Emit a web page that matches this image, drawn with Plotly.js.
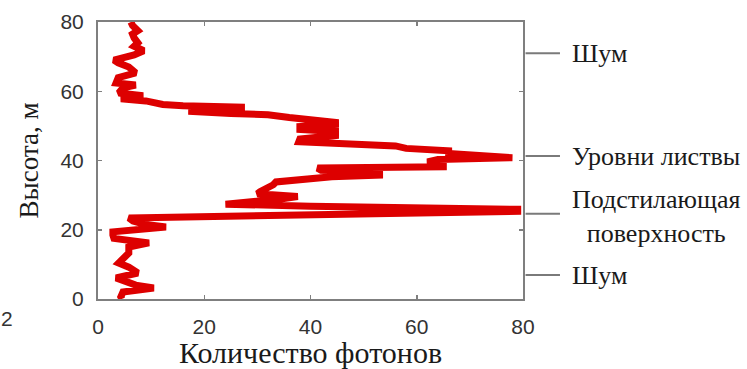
<!DOCTYPE html>
<html>
<head>
<meta charset="utf-8">
<script src="https://cdn.plot.ly/plotly-3.0.1.min.js"></script>
<style>
  html, body { margin: 0; padding: 0; background: #ffffff; }
  #chart { width: 747px; height: 369px; }
</style>
</head>
<body>
<div id="chart"></div>
<script>
// Height (m) of each sample, top to bottom
const heights = [
  80, 79, 77.5, 76.5, 75.4, 74, 73, 71.7, 70.5, 69.5, 69, 68.2, 67, 65.3, 64.5, 63.9,
  62.4, 61.8, 61, 59.5, 58.7, 57.8, 57.2, 56.5, 56.2, 55.8, 55.4, 54.6, 54.2, 53.6,
  53.2, 52.4, 51.8, 51.0, 50.4, 49.8, 49.0, 48.4, 47.2, 46.2, 45.4, 45.0, 44.2, 43.5,
  42.8, 42.0, 41.6, 41.3, 40.8, 40.3, 39.6, 38.8, 38.2, 37.8, 37.2, 36.7, 35.8, 35.3,
  34.6, 33.8, 33, 32, 31, 30.4, 29.6, 29.0, 28.4, 27.8, 27.4, 26.8, 26.3, 25.9, 25.3,
  24.9, 24.5, 24.1, 23.7, 23.4, 22.5, 21.5, 20.8, 20, 19.4, 18.5, 17.5, 16.2, 15,
  13.3, 11.8, 10.4, 9.2, 7.5, 6.1, 5, 4, 3.2, 2, 0.6, 0
];
// Photon count at each height
const photons = [
  6.2, 6.5, 7.5, 6.5, 6.8, 7.5, 6.8, 8.6, 6.8, 4, 3.0, 3.8, 5.8, 7.1, 5, 3.8,
  3.4, 7.1, 4.7, 3.9, 8.5, 4.3, 9, 11, 12.2, 16, 27, 27, 17, 25,
  32, 36, 41, 44.7, 44.7, 38, 38, 44.7, 44.7, 38, 37.8, 45, 56, 58,
  66, 66, 72, 78, 78, 64, 62, 65, 65, 41.3, 42, 53, 53, 44,
  38, 33.5, 33, 31.5, 30.5, 30, 37.6, 35, 31, 24, 24, 40, 60, 79, 79,
  62, 38, 20, 10, 5.8, 6.6, 9, 12.8, 7, 2.8, 2.8, 3, 9.6, 5.8,
  5.8, 4.9, 3.9, 5.8, 7.5, 3.4, 5, 7.1, 10.5, 4.7, 4.3, 4.5
];
const xTicks = [0, 20, 40, 60, 80];
const yTicks = [0, 20, 40, 60, 80];
const xTitle = "Количество фотонов";
const yTitle = "Высота, м";
// Right-side labels and the heights they point to
const sideLabels = ["Шум", "Уровни листвы", "Подстилающая<br>поверхность", "Шум"];
const sideHeights = [71, 41.3, 24.6, 6.9];

const serif = "Liberation Serif, Times New Roman, serif";
const sans = "Liberation Sans, Arial, sans-serif";

const shapes = sideHeights.map(h => ({
  type: "line", xref: "paper", yref: "y",
  x0: 1.006, x1: 1.087, y0: h, y1: h,
  line: { color: "#7a7a7a", width: 2 }
}));

const annotations = sideLabels.map((t, i) => ({
  text: t, xref: "paper", yref: "y",
  x: i === 2 ? 1.315 : 1.11, y: sideHeights[i] + (i === 2 ? -0.8 : 0),
  xanchor: i === 2 ? "center" : "left", yanchor: "middle", align: "center",
  showarrow: false,
  font: { family: serif, size: 26, color: "#1a1a1a" }
}));
annotations.push({
  text: "2", xref: "paper", yref: "paper", x: -0.214, y: -0.072,
  xanchor: "center", yanchor: "middle", showarrow: false,
  font: { family: sans, size: 21, color: "#333" }
});

const trace = {
  x: photons, y: heights, type: "scatter", mode: "lines",
  line: { color: "#dd0000", width: 7, shape: "linear" },
  hoverinfo: "skip"
};

const axisCommon = {
  showgrid: false, zeroline: false, showline: true, mirror: "ticks",
  linecolor: "#7f7f7f", linewidth: 2,
  ticks: "inside", ticklen: 4, tickwidth: 1.5, tickcolor: "#7f7f7f",
  tickfont: { family: sans, size: 21, color: "#333" },
  tickmode: "array", ticklabelstandoff: 8
};

const layout = {
  width: 747, height: 369,
  margin: { l: 98, r: 224, t: 22, b: 70, pad: 0 },
  paper_bgcolor: "#ffffff", plot_bgcolor: "#ffffff",
  showlegend: false,
  xaxis: Object.assign({}, axisCommon, {
    range: [0, 80], tickvals: xTicks, ticktext: xTicks.map(String),
    title: { text: xTitle, font: { family: serif, size: 30, color: "#1a1a1a" }, standoff: 8 }
  }),
  yaxis: Object.assign({}, axisCommon, {
    range: [0, 80], tickvals: yTicks, ticktext: yTicks.map(String),
    title: { text: yTitle, font: { family: serif, size: 27, color: "#1a1a1a" }, standoff: 14 }
  }),
  shapes: shapes,
  annotations: annotations
};

Plotly.newPlot("chart", [trace], layout, { displayModeBar: false, staticPlot: true });
</script>
</body>
</html>
